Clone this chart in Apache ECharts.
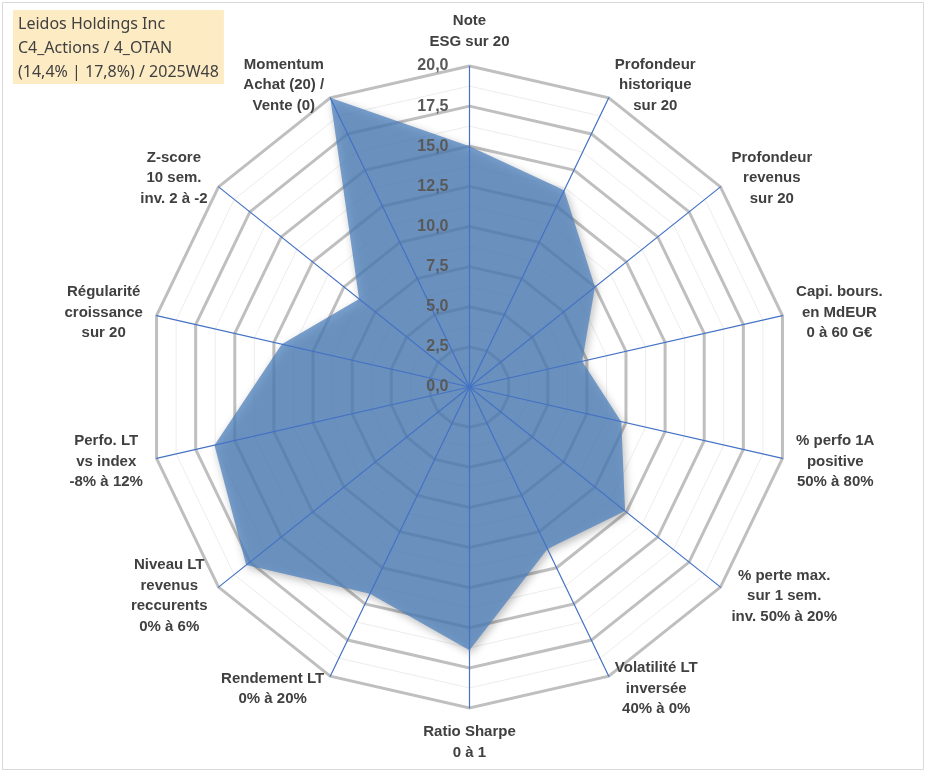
<!DOCTYPE html>
<html>
<head>
<meta charset="utf-8">
<script src="https://cdn.jsdelivr.net/npm/echarts@6/dist/echarts.min.js"></script>
<style>
  html, body { margin: 0; padding: 0; background: #ffffff; }
  #chart { width: 933px; height: 776px; }
</style>
</head>
<body>
<div id="chart"></div>
<script>
// Indicators in clockwise order starting from the top
const indicatorNames = [
  'Note\nESG sur 20',
  'Profondeur\nhistorique\nsur 20',
  'Profondeur\nrevenus\nsur 20',
  'Capi. bours.\nen MdEUR\n0 à 60 G€',
  '% perfo 1A\npositive\n50% à 80%',
  '% perte max.\nsur 1 sem.\ninv. 50% à 20%',
  'Volatilité LT\ninversée\n40% à 0%',
  'Ratio Sharpe\n0 à 1',
  'Rendement LT\n0% à 20%',
  'Niveau LT\nrevenus\nreccurents\n0% à 6%',
  'Perfo. LT\nvs index\n-8% à 12%',
  'Régularité\ncroissance\nsur 20',
  'Z-score\n10 sem.\ninv. 2 à -2',
  'Momentum\nAchat (20) /\nVente (0)'
];
const scoreValues = [15.0, 13.6, 10.0, 7.2, 9.7, 12.4, 11.2, 16.4, 14.3, 17.8, 16.3, 12.0, 8.8, 20.0];
const axisMax = 20;
const titleLines = ['Leidos Holdings Inc', 'C4_Actions / 4_OTAN', '(14,4% | 17,8%) / 2025W48'];

// ECharts radar runs counter-clockwise: keep first at top, reverse the rest
const order = [0].concat(indicatorNames.map((_, i) => i).slice(1).reverse());
function makeIndicators(withLabel) {
  return order.map((i, k) => {
    const o = { name: indicatorNames[i], min: 0, max: axisMax };
    if (withLabel && k === 0) o.axisLabel = { show: true };
    return o;
  });
}
const seriesData = order.map(i => scoreValues[i]);

const CENTER = [469.5, 387];
const RADIUS = 321;
const FONT = 'Liberation Sans, Arial, sans-serif';
const nameStyle = { color: '#404040', fontSize: 15, fontWeight: 'bold', fontFamily: FONT, lineHeight: 20.5, align: 'center' };

function baseRadar(withLabel) {
  return {
    center: CENTER, radius: RADIUS, shape: 'polygon', startAngle: 90,
    indicator: makeIndicators(withLabel),
    splitArea: { show: false },
    axisTick: { show: false },
    axisLabel: { show: false }
  };
}

const chart = echarts.init(document.getElementById('chart'), null, { renderer: 'canvas' });
chart.setOption({
  backgroundColor: '#ffffff',
  animation: false,
  title: {
    text: titleLines.join('\n'),
    left: 13, top: 10,
    backgroundColor: '#FDEBC4',
    padding: [2, 5, 0, 5],
    textStyle: { color: '#404040', fontSize: 16, fontWeight: 'normal', fontFamily: 'Noto Sans, sans-serif', lineHeight: 24 }
  },
  graphic: [{
    type: 'rect', z: -10, silent: true,
    shape: { x: 2.5, y: 2.5, width: 921, height: 767 },
    style: { fill: 'none', stroke: '#D9D9D9', lineWidth: 1 }
  }],
  radar: [
    Object.assign(baseRadar(false), {
      z: 0, splitNumber: 16,
      axisLine: { show: false },
      axisName: { show: false },
      splitLine: { show: true, lineStyle: { color: '#EDEDED', width: 1 } }
    }),
    Object.assign(baseRadar(false), {
      z: 0, splitNumber: 8,
      axisLine: { show: false },
      axisName: { show: false },
      splitLine: { show: true, lineStyle: { color: '#BFBFBF', width: 3 } }
    }),
    Object.assign(baseRadar(true), {
      z: 5, splitNumber: 8,
      splitLine: { show: false },
      axisLine: { show: true, lineStyle: { color: '#4472C4', width: 1.2 } },
      axisLabel: {
        show: false, margin: 21, color: '#595959', fontSize: 16, fontWeight: 'bold',
        fontFamily: FONT,
        showMinLabel: true, showMaxLabel: true,
        formatter: v => Number(v).toFixed(1).replace('.', ',')
      },
      nameGap: 14,
      axisName: {
        show: true,
        color: '#404040', fontSize: 15, fontWeight: 'bold', fontFamily: FONT, lineHeight: 20.5,
        formatter: name => String(name).split('\n').map(s => '{c|' + s + '}').join('\n'),
        rich: { c: nameStyle }
      }
    })
  ],
  series: [{
    type: 'radar',
    radarIndex: 1,
    symbol: 'none',
    z: 2,
    lineStyle: { width: 0, opacity: 0 },
    areaStyle: {
      color: '#4F81BD', opacity: 0.75,
      shadowBlur: 8, shadowColor: 'rgba(0,0,0,0.35)', shadowOffsetX: 2, shadowOffsetY: 3
    },
    data: [{ value: seriesData, name: 'Score' }]
  }]
});
</script>
</body>
</html>
